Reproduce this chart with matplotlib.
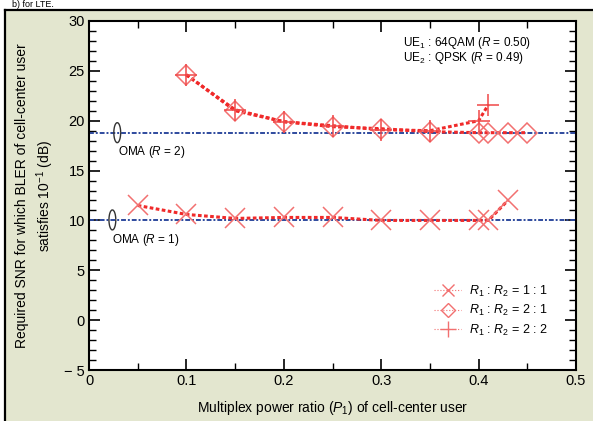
import matplotlib
matplotlib.use("Agg")
import matplotlib.pyplot as plt
from matplotlib.lines import Line2D
from matplotlib.patches import Rectangle, Arc
from matplotlib.ticker import MultipleLocator

plt.rcParams['font.family'] = ['Liberation Sans', 'DejaVu Sans']
plt.rcParams['mathtext.fontset'] = 'custom'
plt.rcParams['mathtext.rm'] = 'Liberation Sans'
plt.rcParams['mathtext.it'] = 'Liberation Sans:italic'

# data
p1_11 = [0.05, 0.10, 0.15, 0.20, 0.25, 0.30, 0.35, 0.40, 0.41, 0.43]
snr_11 = [11.5, 10.6, 10.2, 10.3, 10.3, 10.0, 10.0, 10.0, 10.0, 12.0]

p1_21 = [0.10, 0.15, 0.20, 0.25, 0.30, 0.35, 0.40, 0.41, 0.43, 0.45]
snr_21 = [24.6, 21.0, 19.9, 19.4, 19.2, 18.9, 18.8, 18.8, 18.8, 18.8]

p1_22 = [0.10, 0.15, 0.20, 0.25, 0.30, 0.35, 0.40, 0.41]
snr_22 = [24.6, 21.1, 19.9, 19.5, 19.1, 19.0, 20.0, 21.6]

oma_r1 = 10.05
oma_r2 = 18.8

labels = ["$R_1$ : $R_2$ = 1 : 1", "$R_1$ : $R_2$ = 2 : 1", "$R_1$ : $R_2$ = 2 : 2"]
ytick_vals = [-5, 0, 5, 10, 15, 20, 25, 30]
ytick_labels = ["\u2212 5", "0", "5", "10", "15", "20", "25", "30"]
xtick_vals = [0, 0.1, 0.2, 0.3, 0.4, 0.5]
xtick_labels = ["0", "0.1", "0.2", "0.3", "0.4", "0.5"]

line_red = '#f02a2a'
mark_red = '#f27070'
oma_blue = '#2e4a9e'

fig = plt.figure(figsize=(5.93, 4.21), dpi=100)
fig.patch.set_facecolor('white')
# beige panel with black border on top and left
fig.patches.append(Rectangle((5 / 593, 0), 1, 1 - 10 / 421, transform=fig.transFigure,
                             facecolor='#e3e6cf', edgecolor='none', zorder=-10))
fig.add_artist(Line2D([5 / 593, 1], [1 - 10 / 421, 1 - 10 / 421], transform=fig.transFigure,
                      color='black', lw=1.6))
fig.add_artist(Line2D([5 / 593, 5 / 593], [0, 1 - 10 / 421], transform=fig.transFigure,
                      color='black', lw=1.6))
fig.text(0.02, 0.999, "b) for LTE.", fontsize=6.5, va='top', ha='left')

ax = fig.add_axes([89 / 593, 1 - 370 / 421, (576 - 89) / 593, (370 - 21) / 421])
ax.set_facecolor('white')

oma_ls = (0, (2.5, 1.0, 1, 1.0))
ax.axhline(oma_r2, color=oma_blue, lw=1.4, ls=oma_ls, zorder=2)
ax.axhline(oma_r1, color=oma_blue, lw=1.4, ls=oma_ls, zorder=2)

dotted = (0, (1.2, 0.8))
ax.plot(p1_21, snr_21, color=line_red, lw=2.2, ls=dotted, zorder=3)
ax.plot(p1_22, snr_22, color=line_red, lw=2.2, ls=dotted, zorder=3)
ax.plot(p1_11, snr_11, color=line_red, lw=2.2, ls=dotted, zorder=3)

ax.plot(p1_11, snr_11, ls='none', marker='x', ms=14, mew=1.1, mec=mark_red, zorder=4)
ax.plot(p1_21, snr_21, ls='none', marker='D', ms=10.5, mew=1.1, mec=mark_red, mfc='none', zorder=4)
ax.plot(p1_22, snr_22, ls='none', marker='+', ms=16, mew=1.1, mec='#f04848', zorder=4)

# OMA annotations
ax.add_patch(Arc((0.029, oma_r2), 0.007, 2.0, theta1=70, theta2=330, color='#333333', lw=1.0, zorder=5))
ax.text(0.03, 16.9, "OMA ($R$ = 2)", fontsize=8.5, va='center', ha='left')
ax.add_patch(Arc((0.024, oma_r1), 0.007, 2.0, theta1=70, theta2=330, color='#333333', lw=1.0, zorder=5))
ax.text(0.024, 8.0, "OMA ($R$ = 1)", fontsize=8.5, va='center', ha='left')

ax.text(0.322, 27.8, "UE$_1$ : 64QAM ($R$ = 0.50)", fontsize=8.5, va='center', ha='left')
ax.text(0.322, 26.3, "UE$_2$ : QPSK ($R$ = 0.49)", fontsize=8.5, va='center', ha='left')

handles = [
    Line2D([], [], color=mark_red, lw=0.8, ls=':', marker='x', ms=9, mew=1.0),
    Line2D([], [], color=mark_red, lw=0.8, ls=':', marker='D', ms=7, mew=1.0, mfc='none'),
    Line2D([], [], color=mark_red, lw=0.8, ls=':', marker='+', ms=11, mew=1.0),
]
ax.legend(handles, labels, loc='lower right', bbox_to_anchor=(0.965, 0.06), frameon=False,
          fontsize=9, handlelength=2.2, handletextpad=0.6, labelspacing=0.35)

ax.set_xlim(0, 0.5)
ax.set_ylim(-5, 30)
ax.set_xticks(xtick_vals)
ax.set_xticklabels(xtick_labels)
ax.set_yticks(ytick_vals)
ax.set_yticklabels(ytick_labels)
ax.xaxis.set_minor_locator(MultipleLocator(0.05))
ax.yaxis.set_minor_locator(MultipleLocator(1))
ax.tick_params(which='both', direction='in', top=True, right=True, labelsize=10.5, pad=3)
ax.tick_params(which='major', length=8, width=1.2)
ax.tick_params(which='minor', length=5, width=1.0)
for s in ax.spines.values():
    s.set_linewidth(1.5)

ax.set_xlabel("Multiplex power ratio ($P_1$) of cell-center user", fontsize=10, labelpad=8)
ax.set_ylabel("Required SNR for which BLER of cell-center user\nsatisfies 10$^{-1}$ (dB)",
              fontsize=10, labelpad=6, linespacing=1.3)

fig.savefig("out.png", dpi=100)
